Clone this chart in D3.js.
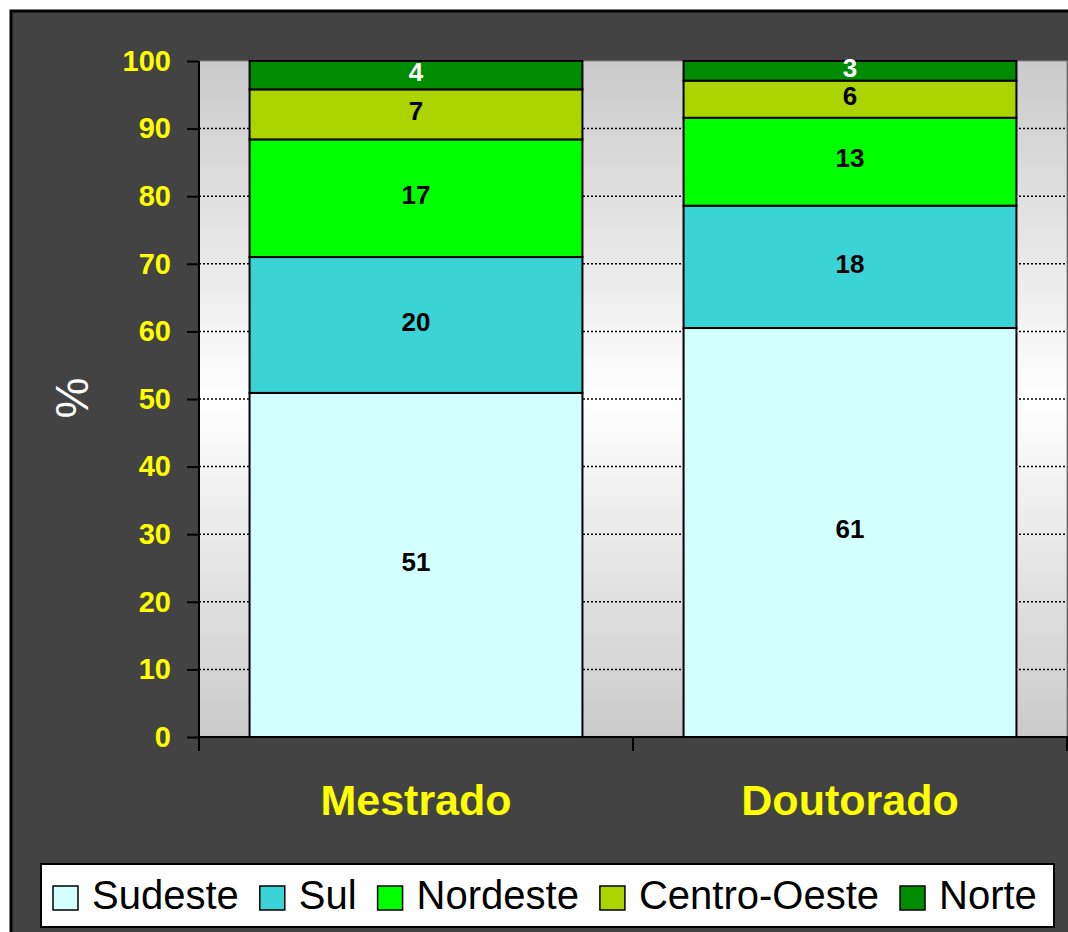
<!DOCTYPE html>
<html>
<head>
<meta charset="utf-8">
<script src="https://cdn.jsdelivr.net/npm/d3@7"></script>
<style>
    body { margin: 0; background: #fff; }
    svg { display: block; font-family: "Liberation Sans", Arial, sans-serif; }
</style>
</head>
<body>
<svg width="1068" height="932"></svg>
<script>
(() => {

    var categories = ["Mestrado", "Doutorado"];
    var regions = ["Sudeste", "Sul", "Nordeste", "Centro-Oeste", "Norte"];

    // percent values per region, one per category
    var sudeste = [50.9, 60.5];
    var sul = [20.1, 18.1];
    var nordeste = [17.4, 13.0];
    var centroOeste = [7.4, 5.5];
    var norte = [4.2, 2.9];

    var yTicks = [0, 10, 20, 30, 40, 50, 60, 70, 80, 90, 100];

    var colors = ["#d4ffff", "#3ad4d6", "#00ff00", "#acd400", "#008c00"];
    var labelColors = ["#000", "#000", "#000", "#000", "#fff"];

    var plot = { left: 199, right: 1067, top: 61, bottom: 737 };

    var svg = d3.select("svg");

    // table for d3.stack
    var series = [sudeste, sul, nordeste, centroOeste, norte];
    var table = categories.map(function (c, i) {
        var row = { cat: c };
        regions.forEach(function (r, j) { row[r] = series[j][i]; });
        return row;
    });
    var stacked = d3.stack().keys(regions)(table);

    var x = d3.scaleBand()
        .domain(categories)
        .range([plot.left, plot.right])
        .paddingInner(0.233)
        .paddingOuter(0.1165);

    var xOuter = d3.scaleBand()
        .domain(categories)
        .range([plot.left, plot.right]);

    var y = d3.scaleLinear()
        .domain([0, 100])
        .range([plot.bottom, plot.top]);

    // outer frame
    svg.append("rect")
        .attr("x", 11).attr("y", 11)
        .attr("width", 1100).attr("height", 1000)
        .attr("fill", "#434343")
        .attr("stroke", "#000")
        .attr("stroke-width", 3);

    // plot background gradient
    var grad = svg.append("defs").append("linearGradient")
        .attr("id", "bg").attr("x1", 0).attr("y1", 0).attr("x2", 0).attr("y2", 1);
    grad.append("stop").attr("offset", "0%").attr("stop-color", "#cacaca");
    grad.append("stop").attr("offset", "50%").attr("stop-color", "#ffffff");
    grad.append("stop").attr("offset", "100%").attr("stop-color", "#cacaca");

    svg.append("rect")
        .attr("x", plot.left).attr("y", plot.top)
        .attr("width", plot.right - plot.left)
        .attr("height", plot.bottom - plot.top)
        .attr("fill", "url(#bg)")
        .attr("stroke", "#8a8a8a")
        .attr("stroke-width", 1);

    // dotted gridlines
    svg.append("g")
        .selectAll("line")
        .data(yTicks.filter(function (d) { return d > 0 && d < 100; }))
        .enter().append("line")
        .attr("x1", plot.left).attr("x2", plot.right)
        .attr("y1", function (d) { return y(d); })
        .attr("y2", function (d) { return y(d); })
        .attr("stroke", "#000")
        .attr("stroke-width", 1.5)
        .attr("stroke-dasharray", "2,2");

    // bars
    var layer = svg.append("g")
        .selectAll("g")
        .data(stacked)
        .enter().append("g")
        .attr("fill", function (d, i) { return colors[i]; });

    layer.selectAll("rect")
        .data(function (d) { return d; })
        .enter().append("rect")
        .attr("x", function (d) { return x(d.data.cat); })
        .attr("width", x.bandwidth())
        .attr("y", function (d) { return y(d[1]); })
        .attr("height", function (d) { return y(d[0]) - y(d[1]); })
        .attr("stroke", "#000")
        .attr("stroke-width", 2);

    // value labels
    stacked.forEach(function (s, i) {
        svg.append("g")
            .selectAll("text")
            .data(s)
            .enter().append("text")
            .attr("x", function (d) { return x(d.data.cat) + x.bandwidth() / 2; })
            .attr("y", function (d) { return (y(d[0]) + y(d[1])) / 2; })
            .attr("dy", "0.22em")
            .attr("text-anchor", "middle")
            .attr("font-size", 26)
            .attr("font-weight", "bold")
            .attr("fill", labelColors[i])
            .text(function (d) { return Math.round(d[1] - d[0]); });
    });

    // y axis
    var yAxis = svg.append("g")
        .attr("transform", "translate(" + plot.left + ",0)")
        .call(d3.axisLeft(y).tickValues(yTicks).tickSize(12).tickPadding(16));
    yAxis.select(".domain").attr("stroke", "#000").attr("stroke-width", 2)
        .attr("d", "M0," + plot.top + "V" + plot.bottom);
    yAxis.selectAll(".tick line").attr("stroke", "#000").attr("stroke-width", 2);
    yAxis.selectAll(".tick text")
        .attr("fill", "#ffff00")
        .attr("font-size", 29)
        .attr("font-weight", "bold")
        .attr("font-family", "Liberation Sans, Arial, sans-serif");

    // x axis
    svg.append("line")
        .attr("x1", plot.left).attr("x2", plot.right + 10)
        .attr("y1", plot.bottom).attr("y2", plot.bottom)
        .attr("stroke", "#000").attr("stroke-width", 2);

    var bounds = categories.map(function (c) { return xOuter(c); }).concat([plot.right]);
    svg.append("g")
        .selectAll("line")
        .data(bounds)
        .enter().append("line")
        .attr("x1", function (d) { return d; }).attr("x2", function (d) { return d; })
        .attr("y1", plot.bottom).attr("y2", plot.bottom + 14)
        .attr("stroke", "#000").attr("stroke-width", 2);

    svg.append("g")
        .selectAll("text")
        .data(categories)
        .enter().append("text")
        .attr("x", function (d) { return xOuter(d) + xOuter.bandwidth() / 2; })
        .attr("y", 815)
        .attr("text-anchor", "middle")
        .attr("font-size", 43)
        .attr("font-weight", "bold")
        .attr("fill", "#ffff00")
        .text(function (d) { return d; });

    // y title
    svg.append("text")
        .attr("transform", "translate(88,398) rotate(-90)")
        .attr("text-anchor", "middle")
        .attr("font-size", 46)
        .attr("fill", "#fff")
        .text("%");

    // legend
    var legend = svg.append("g");
    legend.append("rect")
        .attr("x", 41).attr("y", 864)
        .attr("width", 1013).attr("height", 63)
        .attr("fill", "#fff")
        .attr("stroke", "#000")
        .attr("stroke-width", 2);

    var lx = 53;
    regions.forEach(function (r, i) {
        legend.append("rect")
            .attr("x", lx).attr("y", 886)
            .attr("width", 25).attr("height", 24)
            .attr("fill", colors[i])
            .attr("stroke", "#000")
            .attr("stroke-width", 1.5);
        var t = legend.append("text")
            .attr("x", lx + 39).attr("y", 909)
            .attr("font-size", 40)
            .attr("fill", "#000")
            .text(r);
        lx = lx + 39 + t.node().getComputedTextLength() + 21;
    });

})();
</script>
</body>
</html>
